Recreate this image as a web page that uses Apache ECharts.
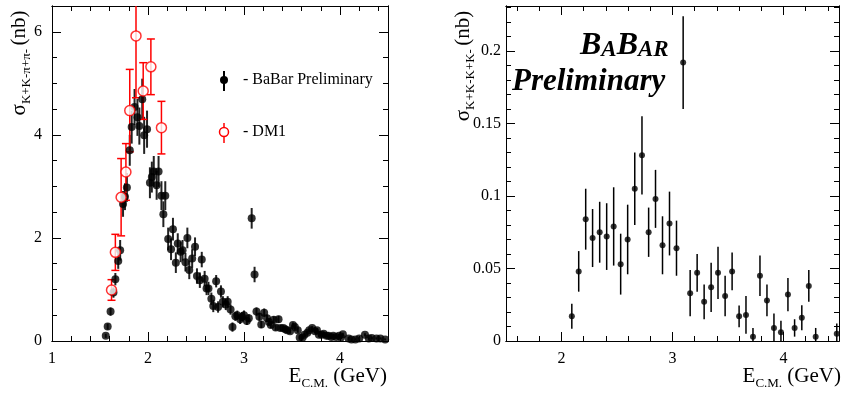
<!DOCTYPE html>
<html>
<head>
<meta charset="utf-8">
<script src="https://cdn.jsdelivr.net/npm/echarts@6/dist/echarts.min.js"></script>
<style>
  html, body { margin: 0; padding: 0; background: #fff; }
  #chart { width: 842px; height: 394px; }
</style>
</head>
<body>
<div id="chart"></div>
<script>
// [E (GeV), sigma (nb), error]
const babarKKpipi = [
  [1.56,0.10,0.04],[1.58,0.28,0.06],[1.61,0.57,0.08],[1.64,0.94,0.10],[1.66,1.20,0.12],
  [1.69,1.55,0.15],[1.71,1.76,0.20],[1.74,2.66,0.25],[1.76,2.80,0.26],[1.78,2.98,0.28],
  [1.81,3.70,0.30],[1.83,4.15,0.32],[1.86,4.54,0.35],[1.89,4.34,0.36],[1.91,4.17,0.36],
  [1.94,4.69,0.40],[1.96,3.99,0.36],[1.99,4.11,0.36],[2.02,3.07,0.30],[2.04,3.18,0.30],
  [2.06,3.29,0.30],[2.09,3.02,0.28],[2.11,3.29,0.30],[2.14,2.82,0.28],[2.16,2.46,0.25],
  [2.18,2.82,0.28],[2.21,1.98,0.22],[2.24,1.78,0.21],[2.26,2.17,0.22],[2.29,1.52,0.20],
  [2.31,1.89,0.20],[2.34,1.73,0.20],[2.36,1.76,0.20],[2.39,1.53,0.18],[2.41,2.00,0.20],
  [2.43,1.38,0.18],[2.46,1.60,0.18],[2.49,1.83,0.18],[2.51,1.26,0.15],[2.54,1.18,0.15],
  [2.56,1.58,0.15],[2.59,1.21,0.15],[2.61,1.02,0.13],[2.63,1.02,0.13],[2.66,0.82,0.12],
  [2.68,0.68,0.12],[2.71,1.16,0.12],[2.73,0.66,0.11],[2.76,0.96,0.12],[2.78,0.76,0.11],
  [2.81,0.71,0.11],[2.83,0.76,0.11],[2.86,0.61,0.10],[2.88,0.27,0.09],[2.91,0.48,0.09],
  [2.93,0.50,0.09],[2.96,0.42,0.09],[2.98,0.47,0.09],[3.00,0.50,0.09],[3.03,0.39,0.08],
  [3.05,0.44,0.08],[3.08,2.38,0.20],[3.11,1.29,0.15],[3.13,0.57,0.08],[3.16,0.47,0.08],
  [3.18,0.32,0.07],[3.21,0.55,0.08],[3.24,0.44,0.07],[3.26,0.37,0.07],[3.28,0.31,0.06],
  [3.31,0.41,0.07],[3.33,0.26,0.06],[3.36,0.42,0.07],[3.38,0.25,0.06],[3.41,0.25,0.05],
  [3.43,0.23,0.05],[3.45,0.21,0.05],[3.48,0.19,0.05],[3.51,0.31,0.05],[3.53,0.27,0.05],
  [3.56,0.21,0.05],[3.58,0.07,0.04],[3.61,0.07,0.04],[3.63,0.12,0.04],[3.66,0.16,0.04],
  [3.68,0.21,0.04],[3.71,0.25,0.04],[3.74,0.19,0.04],[3.76,0.21,0.04],[3.78,0.12,0.04],
  [3.81,0.12,0.04],[3.83,0.14,0.04],[3.86,0.10,0.03],[3.88,0.10,0.03],[3.91,0.08,0.03],
  [3.93,0.10,0.03],[3.96,0.08,0.03],[3.99,0.10,0.03],[4.01,0.07,0.03],[4.03,0.13,0.03],
  [4.09,0.05,0.03],[4.12,0.03,0.02],[4.16,0.03,0.02],[4.20,0.05,0.02],[4.26,0.12,0.03],
  [4.30,0.05,0.02],[4.33,0.06,0.02],[4.38,0.05,0.02],[4.42,0.05,0.02],[4.47,0.03,0.02]
];
const dm1KKpipi = [
  [1.62,0.99,0.20],[1.66,1.72,0.35],[1.72,2.79,0.75],[1.77,3.28,0.55],[1.81,4.47,0.80],
  [1.875,5.92,1.20],[1.95,4.85,0.55],[2.03,5.32,0.54],[2.14,4.14,0.51]
];
const babarKKKK = [
  [2.093,0.017,0.0086],[2.155,0.048,0.014],[2.218,0.084,0.021],[2.28,0.071,0.020],
  [2.344,0.075,0.021],[2.407,0.072,0.023],[2.47,0.079,0.027],[2.533,0.053,0.021],
  [2.596,0.070,0.024],[2.66,0.105,0.025],[2.725,0.128,0.027],[2.785,0.075,0.017],
  [2.847,0.098,0.020],[2.91,0.066,0.020],[2.973,0.081,0.022],[3.036,0.064,0.019],
  [3.096,0.192,0.032],[3.159,0.033,0.016],[3.222,0.047,0.013],[3.285,0.027,0.012],
  [3.348,0.037,0.017],[3.41,0.047,0.018],[3.474,0.031,0.014],[3.537,0.048,0.013],
  [3.60,0.017,0.0075],[3.662,0.018,0.013],[3.725,0.003,0.006],[3.788,0.045,0.014],
  [3.851,0.028,0.011],[3.914,0.009,0.010],[3.977,0.006,0.008],[4.04,0.032,0.0115],
  [4.10,0.009,0.006],[4.165,0.016,0.0086],[4.228,0.038,0.011],[4.29,0.003,0.006],
  [4.48,0.005,0.007]
];

const kkpipiXTicks = [1, 2, 3, 4];
const kkpipiYTicks = [0, 2, 4, 6];
const kkkkXTicks = [2, 3, 4];
const kkkkYTicks = [0, 0.05, 0.1, 0.15, 0.2];

const FONT = "'Liberation Serif', 'Times New Roman', serif";
const chart = echarts.init(document.getElementById("chart"));

const xAxes = [];
const yAxes = [];

function tickFormatter(ticks) {
  return function (v) {
    const hit = ticks.find(t => Math.abs(t - v) < 1e-9);
    return hit === undefined ? "" : String(hit);
  };
}

// one axis line; step is a number (interval) or {split: n}
function addAxis(list, gridIndex, position, min, max, step, tickLen, ticks, margin) {
  const ax = {
    type: "value",
    gridIndex: gridIndex,
    position: position,
    min: min,
    max: max,
    axisLine: { show: true, onZero: false, lineStyle: { color: "#000", width: 1 } },
    axisTick: { show: true, inside: true, length: tickLen, lineStyle: { color: "#000", width: 1 } },
    splitLine: { show: false },
    axisLabel: ticks
      ? { show: true, color: "#000", fontFamily: FONT, fontSize: 16, margin: margin, formatter: tickFormatter(ticks), showMinLabel: true, showMaxLabel: true }
      : { show: false }
  };
  if (typeof step === "number") ax.interval = step;
  else ax.splitNumber = step.split;
  list.push(ax);
  return list.length - 1;
}

// left panel: K+K-pi+pi-
const lx = addAxis(xAxes, 0, "bottom", 1, 4.5, 1, 9, kkpipiXTicks, 10);
addAxis(xAxes, 0, "bottom", 1, 4.5, 0.2, 5);
addAxis(xAxes, 0, "top", 1, 4.5, 1, 9);
addAxis(xAxes, 0, "top", 1, 4.5, 0.2, 5);
const ly = addAxis(yAxes, 0, "left", 0, 6.5, 2, 9, kkpipiYTicks, 10);
addAxis(yAxes, 0, "left", 0, 6.5, 0.5, 5);
addAxis(yAxes, 0, "right", 0, 6.5, 2, 9);
addAxis(yAxes, 0, "right", 0, 6.5, 0.5, 5);

// right panel: K+K-K+K-
const rx = addAxis(xAxes, 1, "bottom", 1.5, 4.5, { split: 3 }, 9, kkkkXTicks, 10);
addAxis(xAxes, 1, "bottom", 1.5, 4.5, { split: 15 }, 5);
addAxis(xAxes, 1, "top", 1.5, 4.5, { split: 3 }, 9);
addAxis(xAxes, 1, "top", 1.5, 4.5, { split: 15 }, 5);
const ry = addAxis(yAxes, 1, "left", 0, 0.231, 0.05, 9, kkkkYTicks, 5);
addAxis(yAxes, 1, "left", 0, 0.231, 0.01, 5);
addAxis(yAxes, 1, "right", 0, 0.231, 0.05, 9);
addAxis(yAxes, 1, "right", 0, 0.231, 0.01, 5);

function errorBars(color, width, cap) {
  return function (params, api) {
    const x = api.value(0), y = api.value(1), e = api.value(2);
    const cs = params.coordSys;
    const hi = api.coord([x, y + e]);
    const lo = api.coord([x, y - e]);
    const top = Math.max(hi[1], cs.y);
    const bot = Math.min(lo[1], cs.y + cs.height);
    const style = { stroke: color, lineWidth: width };
    const children = [{ type: "line", shape: { x1: hi[0], y1: top, x2: hi[0], y2: bot }, style: style }];
    if (cap) {
      if (hi[1] >= cs.y) children.push({ type: "line", shape: { x1: hi[0] - cap, y1: hi[1], x2: hi[0] + cap, y2: hi[1] }, style: style });
      if (lo[1] <= cs.y + cs.height) children.push({ type: "line", shape: { x1: lo[0] - cap, y1: lo[1], x2: lo[0] + cap, y2: lo[1] }, style: style });
    }
    return { type: "group", children: children };
  };
}

const pts = arr => arr.map(d => [d[0], d[1]]);

const option = {
  animation: false,
  backgroundColor: "#fff",
  grid: [
    { left: 52, top: 6, width: 336, height: 335 },
    { left: 506, top: 6, width: 335, height: 335 }
  ],
  xAxis: xAxes,
  yAxis: yAxes,
  series: [
    {
      type: "custom", name: "BaBar bars", xAxisIndex: lx, yAxisIndex: ly,
      renderItem: errorBars("#222", 2, 0), data: babarKKpipi, encode: { x: 0, y: 1 }
    },
    {
      type: "scatter", name: "BaBar Preliminary", xAxisIndex: lx, yAxisIndex: ly,
      symbol: "circle", symbolSize: 8, itemStyle: { color: "#000" }, data: pts(babarKKpipi)
    },
    {
      type: "custom", name: "DM1 bars", xAxisIndex: lx, yAxisIndex: ly,
      renderItem: errorBars("#ff0000", 1.5, 4), data: dm1KKpipi, encode: { x: 0, y: 1 }
    },
    {
      type: "scatter", name: "DM1", xAxisIndex: lx, yAxisIndex: ly,
      symbol: "circle", symbolSize: 10,
      itemStyle: { color: "#fff", borderColor: "#ff0000", borderWidth: 1.5 },
      data: pts(dm1KKpipi)
    },
    {
      type: "custom", name: "KKKK bars", xAxisIndex: rx, yAxisIndex: ry,
      renderItem: errorBars("#000", 1.5, 0), data: babarKKKK, encode: { x: 0, y: 1 }
    },
    {
      type: "scatter", name: "KKKK", xAxisIndex: rx, yAxisIndex: ry,
      symbol: "circle", symbolSize: 6, itemStyle: { color: "#000" }, data: pts(babarKKKK)
    }
  ],
  graphic: [
    // legend, left panel
    { type: "line", shape: { x1: 224, y1: 71, x2: 224, y2: 91 }, style: { stroke: "#000", lineWidth: 2 } },
    { type: "circle", shape: { cx: 224, cy: 80, r: 4 }, style: { fill: "#000" } },
    { type: "text", x: 243, y: 80, style: { text: "- BaBar Preliminary", font: "16px " + FONT, fill: "#000", verticalAlign: "middle" } },
    { type: "line", shape: { x1: 224, y1: 123, x2: 224, y2: 143 }, style: { stroke: "#ff0000", lineWidth: 1.5 } },
    { type: "circle", shape: { cx: 224, cy: 132, r: 4.5 }, style: { fill: "#fff", stroke: "#ff0000", lineWidth: 1.5 } },
    { type: "text", x: 243, y: 132, style: { text: "- DM1", font: "16px " + FONT, fill: "#000", verticalAlign: "middle" } },
    // axis titles
    {
      type: "text", x: 19, y: 63, rotation: Math.PI / 2,
      style: {
        text: "{s|σ}{sub|K+K-π+π-} {n|(nb)}", align: "center", verticalAlign: "middle", fill: "#000",
        rich: {
          s: { fontFamily: FONT, fontSize: 21, verticalAlign: "bottom" },
          sub: { fontFamily: FONT, fontSize: 13, verticalAlign: "bottom", padding: [0, 0, -4, 0] },
          n: { fontFamily: FONT, fontSize: 21, verticalAlign: "bottom" }
        }
      }
    },
    {
      type: "text", x: 463, y: 66, rotation: Math.PI / 2,
      style: {
        text: "{s|σ}{sub|K+K-K+K-} {n|(nb)}", align: "center", verticalAlign: "middle", fill: "#000",
        rich: {
          s: { fontFamily: FONT, fontSize: 21, verticalAlign: "bottom" },
          sub: { fontFamily: FONT, fontSize: 13, verticalAlign: "bottom", padding: [0, 0, -4, 0] },
          n: { fontFamily: FONT, fontSize: 21, verticalAlign: "bottom" }
        }
      }
    },
    {
      type: "text", x: 387, y: 376,
      style: {
        text: "{e|E}{sub|C.M.}{e| (GeV)}", align: "right", verticalAlign: "middle", fill: "#000",
        rich: {
          e: { fontFamily: FONT, fontSize: 21, verticalAlign: "bottom" },
          sub: { fontFamily: FONT, fontSize: 13, verticalAlign: "bottom", padding: [0, 0, -4, 0] }
        }
      }
    },
    {
      type: "text", x: 841, y: 376,
      style: {
        text: "{e|E}{sub|C.M.}{e| (GeV)}", align: "right", verticalAlign: "middle", fill: "#000",
        rich: {
          e: { fontFamily: FONT, fontSize: 21, verticalAlign: "bottom" },
          sub: { fontFamily: FONT, fontSize: 13, verticalAlign: "bottom", padding: [0, 0, -4, 0] }
        }
      }
    },
    // BaBar preliminary stamp, right panel
    {
      type: "text", x: 580, y: 46,
      style: {
        text: "{b|B}{a|A}{b|B}{a|AR}", verticalAlign: "middle", fill: "#000",
        rich: {
          b: { fontFamily: FONT, fontSize: 32, fontWeight: "bold", fontStyle: "italic", verticalAlign: "bottom" },
          a: { fontFamily: FONT, fontSize: 23, fontWeight: "bold", fontStyle: "italic", verticalAlign: "bottom" }
        }
      }
    },
    {
      type: "text", x: 512, y: 82,
      style: { text: "Preliminary", font: "italic bold 31px " + FONT, fill: "#000", verticalAlign: "middle" }
    }
  ]
};

chart.setOption(option);
</script>
</body>
</html>
